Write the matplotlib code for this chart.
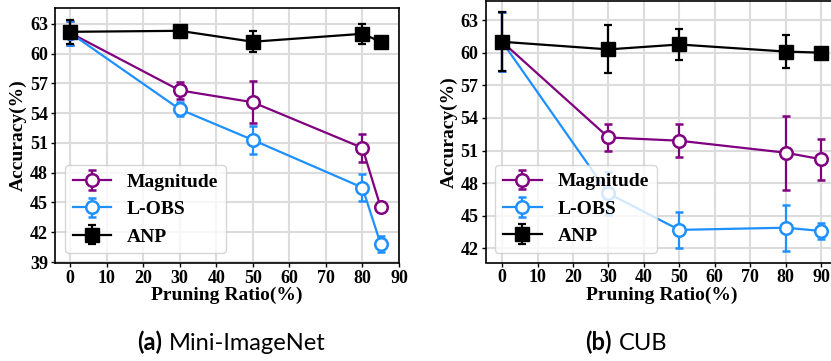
import matplotlib
matplotlib.use('Agg')
import matplotlib.pyplot as plt

# Mini-ImageNet
x_a = [0, 30, 50, 80, 85]
mag_a = [62.1, 56.3, 55.1, 50.5, 44.5]
mag_a_err = [1.2, 0.85, 2.1, 1.4, 0.0]
lobs_a = [62.1, 54.4, 51.3, 46.5, 40.8]
lobs_a_err = [1.2, 0.7, 1.4, 1.4, 0.8]
anp_a = [62.2, 62.3, 61.2, 62.0, 61.2]
anp_a_err = [1.2, 0.0, 1.05, 1.0, 0.0]

# CUB
x_b = [0, 30, 50, 80, 90]
mag_b = [61.0, 52.2, 51.9, 50.8, 50.2]
mag_b_err = [2.7, 1.25, 1.5, 3.4, 1.9]
lobs_b = [61.0, 47.05, 43.7, 43.9, 43.6]
lobs_b_err = [2.7, 2.0, 1.65, 2.1, 0.75]
anp_b = [61.0, 60.3, 60.75, 60.1, 60.0]
anp_b_err = [2.7, 2.2, 1.4, 1.55, 0.0]

xticks = [0, 10, 20, 30, 40, 50, 60, 70, 80, 90]

serif = ['Liberation Serif', 'DejaVu Serif']

fig = plt.figure(figsize=(8.31, 3.61), dpi=100)
ax1 = fig.add_axes([55 / 831, 1 - 263 / 361, (399 - 55) / 831, (263 - 8) / 361])
ax2 = fig.add_axes([485.5 / 831, 1 - 262.5 / 361, (838 - 485.5) / 831, (262.5 - 1) / 361])


def draw(ax, x, mag, mag_err, lobs, lobs_err, anp, anp_err, yticks, ylim, xlim):
    ax.set_axisbelow(True)
    ax.grid(True, color='#dcdcdc', linewidth=1.5)
    common = dict(linewidth=1.6, elinewidth=1.6, capsize=3, capthick=1.6)
    ax.errorbar(x, mag, yerr=mag_err, color='#800080', marker='o', markersize=9,
                markerfacecolor='white', markeredgewidth=1.8, label='Magnitude', **common)
    ax.errorbar(x, lobs, yerr=lobs_err, color='#1e90ff', marker='o', markersize=9,
                markerfacecolor='white', markeredgewidth=1.8, label='L-OBS', **common)
    ax.errorbar(x, anp, yerr=anp_err, color='black', marker='s', markersize=10,
                label='ANP', **common)
    ax.set_xticks(xticks)
    ax.set_yticks(yticks)
    ax.set_xlim(*xlim)
    ax.set_ylim(*ylim)
    for lab in ax.get_xticklabels() + ax.get_yticklabels():
        lab.set_family(serif)
        lab.set_fontweight('bold')
        lab.set_fontsize(13)
    ax.tick_params(length=3, width=1, pad=2)
    ax.set_xlabel('Pruning Ratio(%)', family=serif, fontweight='bold', fontsize=14, labelpad=0)
    ax.set_ylabel('Accuracy(%)', family=serif, fontweight='bold', fontsize=14, labelpad=2)
    for s in ax.spines.values():
        s.set_linewidth(1.2)
    ax.legend(loc='lower left', prop={'family': serif, 'weight': 'bold', 'size': 14},
              handlelength=2.0, borderpad=0.4, labelspacing=0.5, handletextpad=0.8,
              fancybox=True, framealpha=0.8)


draw(ax1, x_a, mag_a, mag_a_err, lobs_a, lobs_a_err, anp_a, anp_a_err,
     list(range(39, 64, 3)), (38.9, 64.6), (-4.1, 90))
draw(ax2, x_b, mag_b, mag_b_err, lobs_b, lobs_b_err, anp_b, anp_b_err,
     list(range(42, 64, 3)), (40.7, 64.75), (-4.7, 94.8))

# sub-captions: bold tag, then the name right after it
cap_font = ['Lato', 'DejaVu Sans']
renderer = fig.canvas.get_renderer()
for tag, name, x0 in [('(a)', 'Mini-ImageNet', 137), ('(b)', 'CUB', 585)]:
    t = fig.text(x0 / 831, 1 - 350 / 361, tag, family=cap_font, fontweight='bold',
                 fontsize=17, va='baseline')
    bb = t.get_window_extent(renderer)
    fig.text((bb.x1 + 7) / 831, 1 - 350 / 361, name, family=cap_font, fontsize=17,
             va='baseline')

fig.savefig('out.png', dpi=100)
